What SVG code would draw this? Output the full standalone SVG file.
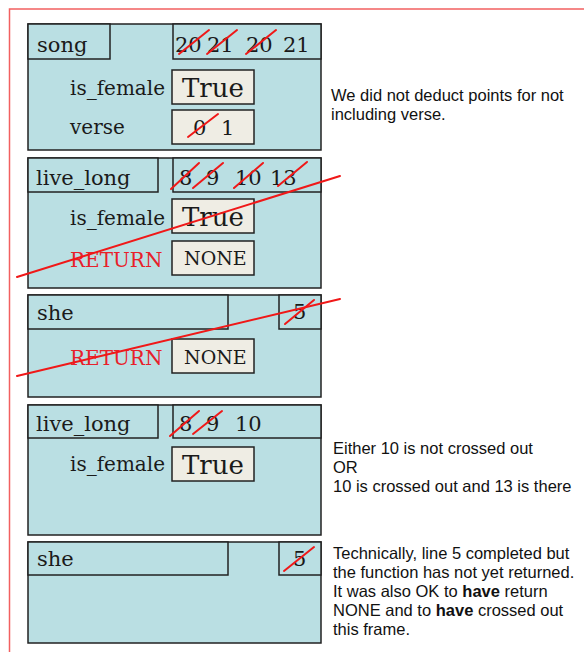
<svg xmlns="http://www.w3.org/2000/svg" width="584" height="652" viewBox="0 0 584 652">
<style>
.frame{fill:#badfe3;stroke:#222;stroke-width:1.5}
.hdr{fill:#badfe3;stroke:#222;stroke-width:1.5}
.val{fill:#efede4;stroke:#222;stroke-width:1.5}
.nm{font-family:"DejaVu Serif",serif;font-size:21px;fill:#1a1a1a}
.num{font-family:"DejaVu Serif",serif;font-size:21px;fill:#1a1a1a}
.lbl{font-family:"DejaVu Serif",serif;font-size:20px;fill:#1a1a1a}
.ret{font-family:"DejaVu Serif",serif;font-size:20px;fill:#e8202a}
.big{font-family:"DejaVu Serif",serif;font-size:26px;fill:#1a1a1a}
.none{font-family:"DejaVu Serif",serif;font-size:19px;fill:#1a1a1a}
.note{font-family:"Liberation Sans",Arial,sans-serif;font-size:16.5px;fill:#111}
.sl{stroke:#f01818;stroke-width:2;stroke-linecap:round;fill:none}
.border{stroke:#f26060;stroke-width:1.5;fill:none}
</style>
<g id="page-border">
<path class="border" d="M584,9 H9.5 V652"/>
</g>
<g id="frame-song">
<rect class="frame" x="28" y="24" width="293" height="126"/>
<rect class="hdr" x="28" y="24" width="82" height="35"/>
<rect class="hdr" x="173" y="24" width="148" height="35"/>
<text class="nm" x="37" y="52">song</text>
<text class="num" x="175" y="52">20</text>
<text class="num" x="207" y="52">21</text>
<text class="num" x="246" y="52">20</text>
<text class="num" x="283" y="52">21</text>
<line class="sl" x1="179" y1="54" x2="209" y2="30"/>
<line class="sl" x1="207" y1="54" x2="237" y2="30"/>
<line class="sl" x1="246" y1="54" x2="276" y2="30"/>
<text class="lbl" x="70" y="95">is_female</text>
<rect class="val" x="172" y="70" width="82" height="34"/>
<text class="big" x="182" y="97">True</text>
<text class="lbl" x="70" y="134">verse</text>
<rect class="val" x="172" y="110" width="82" height="34"/>
<text class="num" x="193" y="135">0</text>
<text class="num" x="221" y="135">1</text>
<line class="sl" x1="188" y1="137" x2="218" y2="114"/>
</g>
<g id="frame-live_long-1">
<rect class="frame" x="28" y="158" width="293" height="130"/>
<rect class="hdr" x="28" y="158" width="130" height="34"/>
<rect class="hdr" x="173" y="158" width="148" height="34"/>
<text class="nm" x="36" y="185">live_long</text>
<text class="num" x="179" y="185">8</text>
<text class="num" x="206" y="185">9</text>
<text class="num" x="235" y="185">10</text>
<text class="num" x="270" y="185">13</text>
<line class="sl" x1="171" y1="189" x2="199" y2="163"/>
<line class="sl" x1="193" y1="188" x2="223" y2="163"/>
<line class="sl" x1="234" y1="188" x2="263" y2="163"/>
<line class="sl" x1="278" y1="186" x2="307" y2="162"/>
<text class="lbl" x="70" y="225">is_female</text>
<rect class="val" x="172" y="199" width="82" height="34"/>
<text class="big" x="182" y="226">True</text>
<text class="ret" x="70" y="267">RETURN</text>
<rect class="val" x="172" y="241" width="82" height="34"/>
<text class="none" x="184" y="265">NONE</text>
</g>
<g id="frame-she-1">
<rect class="frame" x="28" y="295" width="293" height="102"/>
<rect class="hdr" x="28" y="295" width="200" height="34"/>
<rect class="hdr" x="279" y="295" width="42" height="34"/>
<text class="nm" x="37" y="320">she</text>
<text class="num" x="293" y="319">5</text>
<line class="sl" x1="285" y1="324" x2="314" y2="300"/>
<text class="ret" x="70" y="365">RETURN</text>
<rect class="val" x="172" y="339" width="82" height="34"/>
<text class="none" x="184" y="364">NONE</text>
</g>
<g id="frame-live_long-2">
<rect class="frame" x="28" y="405" width="293" height="130"/>
<rect class="hdr" x="28" y="405" width="130" height="33"/>
<rect class="hdr" x="173" y="405" width="148" height="33"/>
<text class="nm" x="36" y="431">live_long</text>
<text class="num" x="179" y="431">8</text>
<text class="num" x="206" y="431">9</text>
<text class="num" x="235" y="431">10</text>
<line class="sl" x1="170" y1="436" x2="199" y2="411"/>
<line class="sl" x1="193" y1="434" x2="222" y2="411"/>
<text class="lbl" x="70" y="471">is_female</text>
<rect class="val" x="172" y="447" width="82" height="34"/>
<text class="big" x="182" y="474">True</text>
</g>
<g id="frame-she-2">
<rect class="frame" x="28" y="542" width="293" height="101"/>
<rect class="hdr" x="28" y="542" width="200" height="33"/>
<rect class="hdr" x="279" y="542" width="42" height="33"/>
<text class="nm" x="37" y="566">she</text>
<text class="num" x="293" y="566">5</text>
<line class="sl" x1="284" y1="571" x2="314" y2="547"/>
</g>
<g id="connectors">
<line class="sl" x1="17" y1="277" x2="340" y2="176"/>
<line class="sl" x1="17" y1="376" x2="340" y2="299"/>
</g>
<g id="notes">
<text class="note" x="331" y="101">We did not deduct points for not</text>
<text class="note" x="331" y="120">including verse.</text>
<text class="note" x="333" y="454">Either 10 is not crossed out</text>
<text class="note" x="333" y="473">OR</text>
<text class="note" x="333" y="492">10 is crossed out and 13 is there</text>
<text class="note" x="333" y="559">Technically, line 5 completed but</text>
<text class="note" x="333" y="578">the function has not yet returned.</text>
<text class="note" x="333" y="597">It was also OK to <tspan font-weight="bold">have</tspan> return</text>
<text class="note" x="333" y="616">NONE and to <tspan font-weight="bold">have</tspan> crossed out</text>
<text class="note" x="333" y="635">this frame.</text>
</g>
</svg>
